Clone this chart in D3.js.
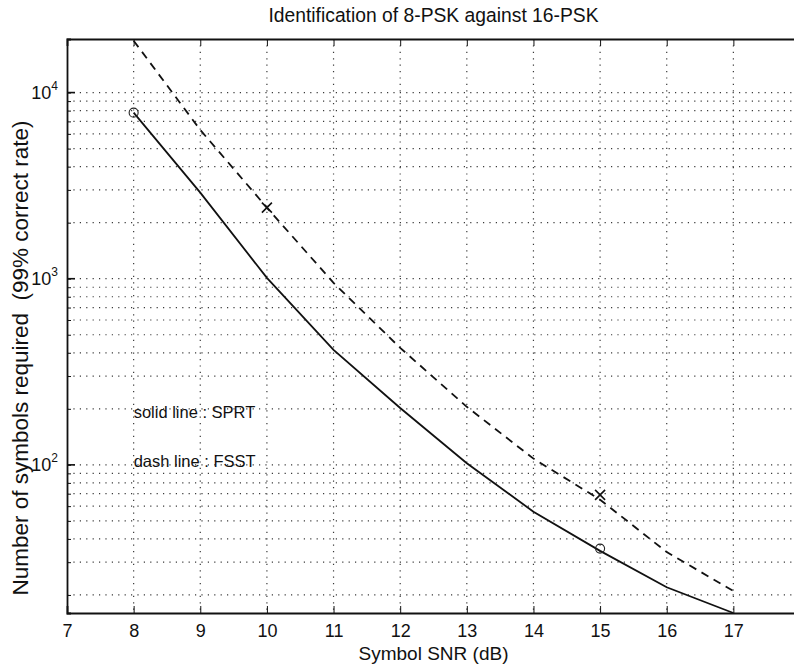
<!DOCTYPE html>
<html>
<head>
<meta charset="utf-8">
<script src="https://cdn.jsdelivr.net/npm/d3@7"></script>
<style>
  body { margin: 0; background: #fff; }
  svg { display: block; }
  text { font-family: "Liberation Sans", Arial, Helvetica, sans-serif; fill: #111; }
  .grid line { stroke: #3a3a3a; stroke-width: 1.2; stroke-dasharray: 1.2 5.2; }
  .axis path, .axis line { stroke: #111; }
  .legend { font-family: "Liberation Sans Narrow", "Arial Narrow", "Liberation Sans", sans-serif; }
</style>
</head>
<body>
<script>
const width = 794, height = 667
const margin = {top: 39, right: -6, bottom: 54, left: 67}

// data
const snr = [8, 9, 10, 11, 12, 13, 14, 15, 16, 17]
const sprt = [7800, 2900, 1010, 415, 202, 102, 56, 34.5, 22, 16]
const fsst = [19000, 6300, 2410, 950, 425, 205, 108, 65, 34, 21]
const circleX = [8, 15], circleY = [7800, 35.5]
const crossX = [10, 15], crossY = [2410, 69]
const xTicks = [7, 8, 9, 10, 11, 12, 13, 14, 15, 16, 17]
const yDecades = [100, 1000, 10000]
const legendLines = ["solid line : SPRT", "dash line : FSST"]

const svg = d3.select("body").append("svg")
    .attr("width", width)
    .attr("height", height)

const x = d3.scaleLinear().domain([7, 18]).range([margin.left, width - margin.right])
const y = d3.scaleLog().domain([16, 19400]).range([height - margin.bottom, margin.top])

const x0 = x.range()[0], x1 = x.range()[1]
const y0 = y.range()[0], y1 = y.range()[1]

// minor values for log grid
const yMinor = []
for (const d of [10, 100, 1000, 10000])
    for (let k = 1; k < 10; k++) {
        const v = d * k
        if (v > y.domain()[0] && v < y.domain()[1]) yMinor.push(v)
    }

// grid
const grid = svg.append("g").attr("class", "grid")
grid.selectAll(".gx").data(xTicks.filter(t => t > 7)).enter()
    .append("line")
    .attr("x1", d => x(d)).attr("x2", d => x(d))
    .attr("y1", y1).attr("y2", y0)
grid.selectAll(".gy").data(yMinor).enter()
    .append("line")
    .attr("x1", x0).attr("x2", x1)
    .attr("y1", d => y(d)).attr("y2", d => y(d))

// axes (ticks inside like matlab)
svg.append("g").attr("class", "axis")
    .attr("transform", `translate(0,${y0})`)
    .call(d3.axisBottom(x).tickValues(xTicks).tickSize(-7).tickPadding(11).tickFormat(d3.format("d")))
    .call(g => g.select(".domain").attr("stroke-width", 1.8))
    .call(g => g.selectAll("text").attr("font-size", 18).attr("dy", "0.71em"))

svg.append("g").attr("class", "axis")
    .attr("transform", `translate(0,${y1})`)
    .call(d3.axisTop(x).tickValues(xTicks).tickSize(-7).tickFormat(""))
    .call(g => g.select(".domain").attr("stroke-width", 1.8))

const yAxis = svg.append("g").attr("class", "axis")
    .attr("transform", `translate(${x0},0)`)
    .call(d3.axisLeft(y).tickValues(yMinor).tickSize(-4).tickFormat(""))
    .call(g => g.select(".domain").attr("stroke-width", 1.8))

yAxis.selectAll(".major").data(yDecades).enter()
    .append("line")
    .attr("stroke", "#111").attr("stroke-width", 1.6)
    .attr("x1", 0).attr("x2", 8)
    .attr("y1", d => y(d)).attr("y2", d => y(d))

const yLab = yAxis.selectAll(".ylab").data(yDecades).enter()
    .append("text")
    .attr("text-anchor", "end")
    .attr("x", -9)
    .attr("y", d => y(d) + 6)
    .attr("font-size", 18)
yLab.append("tspan").text("10")
yLab.append("tspan")
    .attr("font-size", 12)
    .attr("dy", -9)
    .text(d => Math.round(Math.log10(d)))

// lines
const line = d3.line().x((d, i) => x(snr[i])).y(d => y(d))

svg.append("path").datum(sprt)
    .attr("fill", "none").attr("stroke", "#111").attr("stroke-width", 1.8)
    .attr("d", line)

svg.append("path").datum(fsst)
    .attr("fill", "none").attr("stroke", "#111").attr("stroke-width", 1.8)
    .attr("stroke-dasharray", "8 6")
    .attr("d", line)

// markers
svg.selectAll(".circ").data(circleX).enter()
    .append("circle")
    .attr("cx", d => x(d)).attr("cy", (d, i) => y(circleY[i]))
    .attr("r", 4.5)
    .attr("fill", "none").attr("stroke", "#222").attr("stroke-width", 1.1)

svg.selectAll(".cross").data(crossX).enter()
    .append("path")
    .attr("transform", (d, i) => `translate(${x(d)},${y(crossY[i])})`)
    .attr("d", "M-5,-5L5,5M-5,5L5,-5")
    .attr("stroke", "#111").attr("stroke-width", 1.6)

// legend text inside plot
svg.selectAll(".legend").data(legendLines).enter()
    .append("text")
    .attr("class", "legend")
    .attr("x", x(8))
    .attr("y", (d, i) => 418 + i * 49)
    .attr("font-size", 16.5)
    .text(d => d)

// titles
svg.append("text")
    .attr("x", (x0 + x1) / 2).attr("y", 22)
    .attr("text-anchor", "middle")
    .attr("font-size", 19.3)
    .text("Identification of 8-PSK against 16-PSK")

svg.append("text")
    .attr("x", (x0 + x1) / 2).attr("y", 660)
    .attr("text-anchor", "middle")
    .attr("font-size", 19)
    .text("Symbol SNR (dB)")

svg.append("text")
    .attr("transform", "translate(28,358) rotate(-90)")
    .attr("text-anchor", "middle")
    .attr("font-size", 22.5)
    .attr("xml:space", "preserve")
    .text("Number of symbols required  (99% correct rate)")
</script>
</body>
</html>
